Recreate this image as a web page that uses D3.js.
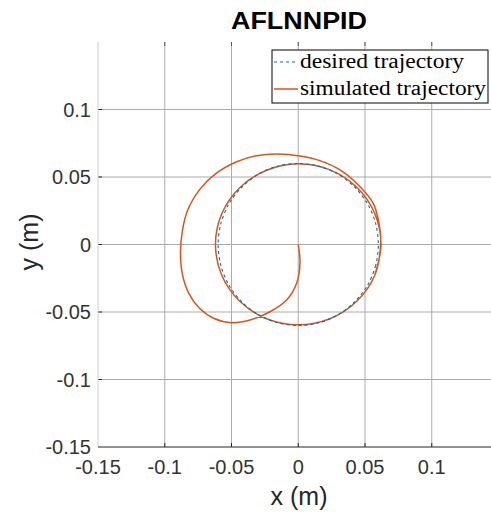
<!DOCTYPE html>
<html><head><meta charset="utf-8">
<script src="https://cdn.jsdelivr.net/npm/d3@7"></script>
<style>body{margin:0;background:#fff}svg{display:block}</style>
</head><body>
<svg id="c" width="491" height="515"></svg>
<script>
const xTicks = [-0.15, -0.1, -0.05, 0, 0.05, 0.1];
const yTicks = [-0.15, -0.1, -0.05, 0, 0.05, 0.1];
const xTickLabels = ["-0.15", "-0.1", "-0.05", "0", "0.05", "0.1"];
const yTickLabels = ["-0.15", "-0.1", "-0.05", "0", "0.05", "0.1"];
const desiredX = [0.06, 0.058, 0.052, 0.0424, 0.03, 0.0155, 0, -0.0155, -0.03, -0.0424, -0.052, -0.058, -0.06, -0.058, -0.052, -0.0424, -0.03, -0.0155, 0, 0.0155, 0.03, 0.0424, 0.052, 0.058];
const desiredY = [0, -0.0155, -0.03, -0.0424, -0.052, -0.058, -0.06, -0.058, -0.052, -0.0424, -0.03, -0.0155, 0, 0.0155, 0.03, 0.0424, 0.052, 0.058, 0.06, 0.058, 0.052, 0.0424, 0.03, 0.0155];
const simX = [0, 0.0013, -0.0012, -0.0087, -0.0212, -0.0361, -0.0499, -0.0630, -0.0740, -0.0820, -0.0868, -0.0882, -0.0868, -0.0830, -0.0736, -0.0611, -0.0461, -0.0311, -0.0161, 0.0013, 0.0163, 0.0313, 0.0463, 0.0562, 0.0600, 0.0618,
  0.0573, 0.0438, 0.0237, 0, -0.0237, -0.0438, -0.0573, -0.062, -0.0573, -0.0438, -0.0237, 0, 0.0237, 0.0438, 0.0573, 0.062, 0.0573];
const simY = [0, -0.0139, -0.0287, -0.0411, -0.0498, -0.0559, -0.0579, -0.0548, -0.0472, -0.0362, -0.0220, -0.0060, 0.0100, 0.0250, 0.0410, 0.0530, 0.0613, 0.0658, 0.0670, 0.0656, 0.0621, 0.0552, 0.0428, 0.0305, 0.0181, 0.002,
  -0.0228, -0.0421, -0.055, -0.0595, -0.055, -0.0421, -0.0228, 0, 0.0228, 0.0421, 0.055, 0.0598, 0.0553, 0.0424, 0.023, 0, -0.0228];
const legendLabels = ["desired trajectory", "simulated trajectory"];
const colors = ["#0072BD", "#D95319"];

const svg = d3.select("#c");
const x = d3.scaleLinear().domain([-0.15, 0.15]).range([98, 498.5]);
const y = d3.scaleLinear().domain([-0.15, 0.15]).range([447, 42]);
const sans = "'Liberation Sans', Arial, sans-serif";

// grid
const g = svg.append("g");
g.selectAll(".gx").data(xTicks.slice(1)).join("line")
  .attr("x1", d => x(d)).attr("x2", d => x(d)).attr("y1", y(0.15)).attr("y2", y(-0.15))
  .attr("stroke", "#ababab").attr("stroke-width", 1);
g.selectAll(".gy").data(yTicks.slice(1)).join("line")
  .attr("x1", x(-0.15)).attr("x2", 491).attr("y1", d => y(d)).attr("y2", d => y(d))
  .attr("stroke", "#ababab").attr("stroke-width", 1);
// left axis light
svg.append("line").attr("x1", x(-0.15)).attr("x2", x(-0.15)).attr("y1", y(0.15)).attr("y2", y(-0.15))
  .attr("stroke", "#cfcfcf");
// tick marks
g.selectAll(".tx").data(xTicks.slice(1)).join("line")
  .attr("x1", d => x(d)).attr("x2", d => x(d)).attr("y1", y(-0.15)).attr("y2", y(-0.15) - 4)
  .attr("stroke", "#262626");
g.selectAll(".tx2").data(xTicks.slice(1)).join("line")
  .attr("x1", d => x(d)).attr("x2", d => x(d)).attr("y1", y(0.15)).attr("y2", y(0.15) + 4)
  .attr("stroke", "#555");
g.selectAll(".ty").data(yTicks.slice(1)).join("line")
  .attr("x1", x(-0.15)).attr("x2", x(-0.15) + 4).attr("y1", d => y(d)).attr("y2", d => y(d))
  .attr("stroke", "#262626");
// bottom axis
svg.append("line").attr("x1", x(-0.15)).attr("x2", 491).attr("y1", y(-0.15)).attr("y2", y(-0.15))
  .attr("stroke", "#262626").attr("stroke-width", 1.2);

// tick labels
svg.selectAll(".xl").data(xTicks).join("text")
  .attr("x", d => x(d)).attr("y", 474).attr("text-anchor", "middle")
  .attr("font-family", sans).attr("font-size", 20).attr("fill", "#333")
  .text((d, i) => xTickLabels[i]);
svg.selectAll(".yl").data(yTicks).join("text")
  .attr("x", 91).attr("y", d => y(d) + 7).attr("text-anchor", "end")
  .attr("font-family", sans).attr("font-size", 20).attr("fill", "#333")
  .text((d, i) => yTickLabels[i]);

// axis labels
svg.append("text").attr("x", 299).attr("y", 505).attr("text-anchor", "middle")
  .attr("font-family", sans).attr("font-size", 25).attr("fill", "#262626").text("x (m)");
svg.append("text").attr("transform", "translate(38,242) rotate(-90)").attr("text-anchor", "middle")
  .attr("font-family", sans).attr("font-size", 25).attr("fill", "#262626").text("y (m)");
// title
svg.append("text").attr("x", 299).attr("y", 29).attr("text-anchor", "middle")
  .attr("font-family", sans).attr("font-size", 23).attr("font-weight", "bold").attr("fill", "#000")
  .attr("textLength", 136).attr("lengthAdjust", "spacingAndGlyphs").text("AFLNNPID");

// data lines
const desired = desiredX.map((v, i) => [v, desiredY[i]]);
const sim = simX.map((v, i) => [v, simY[i]]);
svg.append("clipPath").attr("id", "cp").append("rect")
  .attr("x", x(-0.15)).attr("y", y(0.15)).attr("width", 491 - x(-0.15)).attr("height", y(-0.15) - y(0.15));
svg.append("path").attr("d", d3.line().x(d => x(d[0])).y(d => y(d[1])).curve(d3.curveCatmullRom.alpha(0.5))(sim))
  .attr("fill", "none").attr("stroke", colors[1]).attr("stroke-width", 1.5).attr("clip-path", "url(#cp)");
svg.append("path").attr("d", d3.line().x(d => x(d[0])).y(d => y(d[1])).curve(d3.curveCardinalClosed.tension(0.1))(desired))
  .attr("fill", "none").attr("stroke", colors[0]).attr("stroke-width", 1.1).attr("stroke-dasharray", "3,3").attr("clip-path", "url(#cp)");

// legend
const lg = svg.append("g");
lg.append("rect").attr("x", 272).attr("y", 50).attr("width", 216).attr("height", 53)
  .attr("fill", "#fff").attr("stroke", "#000").attr("stroke-width", 1);
legendLabels.forEach((t, i) => {
  const yy = 62 + i * 27;
  lg.append("line").attr("x1", 274).attr("x2", 298).attr("y1", yy).attr("y2", yy)
    .attr("stroke", colors[i]).attr("stroke-width", i ? 1.5 : 1.1).attr("stroke-dasharray", i ? null : "3,3");
  lg.append("text").attr("x", 300).attr("y", yy + 6).attr("font-family", "'Liberation Serif', 'DejaVu Serif', serif")
    .attr("font-size", 20).attr("fill", "#000")
    .attr("textLength", i ? 186 : 164).attr("lengthAdjust", "spacingAndGlyphs").text(t);
});
</script>
</body></html>
